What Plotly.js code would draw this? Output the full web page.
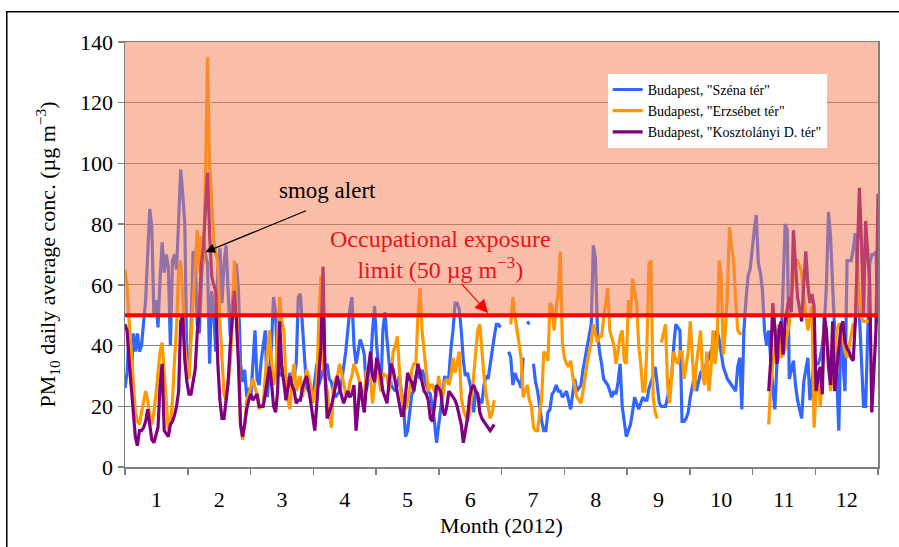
<!DOCTYPE html>
<html>
<head>
<meta charset="utf-8">
<script src="https://cdn.plot.ly/plotly-3.0.1.min.js"></script>
<style>html,body{margin:0;padding:0;background:#fff;}#chart{width:899px;height:547px;}</style>
</head>
<body>
<div id="chart"></div>
<script>
// ---- DATA (daily PM10, day index 0..365 of 2012) ----
const monthLabels = ['1','2','3','4','5','6','7','8','9','10','11','12'];
const seriesNames = ['Budapest, "Széna tér"', 'Budapest, "Erzsébet tér"', 'Budapest, "Kosztolányi D. tér"'];
const limitValue = 50;

const szena = [
26,31,44,27,44,38,44,38,40,48,
55,70,85,79,50,55,46,62,74,64,
70,66,40,68,70,65,82,98,90,80,
32,30,45,71,70,47,44,59,76,70,
67,34,58,51,38,65,72,54,67,73,
58,43,54,62,67,58,34,28,32,23,
26,23,34,45,29,27,35,40,45,23,
32,40,56,51,32,30,31,33,25,28,
31,29,30,34,56,57,47,36,26,25,
25,23,28,34,27,30,32,33,34,29,
28,25,23,24,25,28,33,38,45,52,
56,40,34,38,42,40,37,25,30,34,
45,53,40,33,25,45,51,42,34,27,
26,25,27,30,25,20,10,12,18,24,
25,30,31,29,32,30,27,25,24,20,
15,8,14,20,25,30,28,30,39,45,
54,54,52,45,35,30,31,28,25,18,
25,23,22,21,27,30,29,34,38,43,
47,47,46,null,null,null,38,36,27,31,
29,28,26,36,null,48,47,null,34,28,
25,20,15,12,12,18,19,24,25,27,
25,25,23,24,25,22,19,24,29,25,
26,27,32,36,39,43,47,73,69,45,
38,34,29,28,27,25,23,25,24,28,
34,20,14,10,12,14,18,23,21,19,
21,23,22,22,26,28,30,33,26,21,
20,20,20,23,27,30,40,47,46,45,
15,15,16,18,23,26,30,25,28,31,
32,33,34,36,38,40,43,45,42,38,
33,31,29,28,27,26,25,33,36,19,
45,55,63,65,72,78,83,67,64,58,
45,40,45,34,26,19,34,37,40,60,
80,78,29,32,35,27,22,19,16,28,
32,36,22,28,34,34,34,36,40,47,
60,84,76,60,47,30,12,45,35,25,
68,68,68,72,77,65,50,35,20,20,
45,67,70,70,71,47];

const erzsebet = [
65,60,48,38,30,18,15,14,18,21,
25,22,17,14,18,24,30,38,41,30,
20,12,14,22,35,46,65,68,56,40,
33,29,42,55,67,78,64,76,67,95,
135,100,88,75,70,68,48,35,24,22,
28,34,48,68,55,38,14,9,14,22,
24,27,29,26,24,19,20,21,30,39,
45,35,27,30,42,56,48,45,28,22,
19,30,34,25,28,30,23,28,32,30,
27,21,24,28,50,63,34,30,25,18,
13,25,29,30,34,31,27,24,23,28,
30,34,32,30,27,24,23,32,30,29,
21,28,34,30,25,31,30,30,25,30,
38,40,43,32,23,21,19,22,25,32,
34,34,50,59,45,38,30,25,27,27,
25,23,30,25,23,28,29,27,30,36,
31,35,38,23,19,17,15,18,23,30,
38,45,47,38,30,24,20,16,18,22,
null,null,null,null,null,null,null,47,56,50,
45,40,36,23,25,27,22,20,13,12,
12,18,23,38,37,35,54,53,45,52,
58,71,41,36,34,33,35,30,27,23,
22,21,25,30,34,38,41,47,44,41,
43,43,49,55,59,45,42,40,34,38,
43,45,35,34,55,49,62,58,54,40,
34,25,25,40,67,68,23,18,16,null,
41,44,47,27,21,30,38,35,34,38,
38,29,33,38,48,36,25,34,40,45,
30,27,38,25,32,45,34,40,68,63,
37,45,57,79,73,68,55,45,44,44,
null,null,null,null,null,null,null,null,null,null,
null,null,14,27,34,40,44,47,36,37,
39,44,47,56,62,68,68,66,64,56,
50,45,49,53,13,25,32,20,30,47,
42,38,25,30,36,45,47,47,42,38,
36,40,44,47,47,67,55,49,48,48,
48,48,48,null,null,null];

const kosztolanyi = [
47,45,35,27,18,10,7,12,12,13,
15,19,14,9,8,11,13,27,34,12,
11,10,14,15,17,20,25,48,50,35,
28,24,24,28,32,44,52,67,72,85,
97,77,63,60,58,34,22,16,16,22,
28,40,48,58,48,34,14,10,14,19,
22,24,22,23,24,20,20,20,24,28,
33,28,20,18,25,48,32,28,22,26,
30,27,25,21,22,22,26,28,30,26,
21,16,12,21,30,40,66,30,16,18,
20,23,27,30,26,23,21,23,25,23,
24,27,12,20,28,22,18,27,33,38,
30,28,36,33,30,25,23,21,28,34,
32,28,25,20,17,17,25,31,29,28,
25,30,34,31,28,25,24,22,16,15,
20,27,26,25,19,17,20,25,24,23,
22,20,17,14,8,12,16,23,26,27,
25,24,18,16,15,14,13,12,13,14,
null,null,null,null,null,null,null,null,null,null,
null,null,null,null,null,null,null,null,null,null,
null,null,null,null,null,null,null,null,null,null,
null,null,null,null,null,null,null,null,null,null,
null,null,null,null,null,null,null,null,null,null,
null,null,null,null,null,null,null,null,null,null,
null,null,null,null,null,null,null,null,null,null,
null,null,null,null,null,null,null,null,null,null,
null,null,null,null,null,null,null,null,null,null,
null,null,null,null,null,null,null,null,null,null,
null,null,null,null,null,null,null,null,null,null,
null,null,null,null,null,null,null,null,null,null,
null,null,null,null,null,null,null,null,null,null,
null,null,25,35,54,46,34,45,48,37,
48,52,56,51,78,67,56,52,48,60,
71,60,54,57,53,25,30,33,24,50,
45,33,27,48,25,32,38,46,48,41,
39,38,36,35,48,75,92,74,50,81,
72,60,18,30,45,90];

// ---- CHART ----
const FONT = 'Liberation Serif, Times New Roman, serif';
const nDays = szena.length;
const days = szena.map((_, i) => i);
const xMax = nDays - 1;
const monthW = xMax / 12;
const labelPos = monthLabels.map((_, i) => (i + 0.5) * monthW);
const boundPos = Array.from({length: 13}, (_, i) => i * monthW);

const colors = ['#3366FF', '#FF9900', '#800080'];
const traces = [szena, erzsebet, kosztolanyi].map((vals, i) => ({
  type: 'scatter', mode: 'lines', x: days, y: vals, name: seriesNames[i],
  line: {color: colors[i], width: 3.2}, connectgaps: false, hoverinfo: 'skip'
}));

const layout = {
  width: 899, height: 547,
  margin: {l: 125, r: 21, t: 42, b: 80},
  paper_bgcolor: '#ffffff', plot_bgcolor: '#ffffff',
  font: {family: FONT, color: '#000', size: 22},
  showlegend: true,
  legend: {
    x: 0.641, y: 0.925, xanchor: 'left', yanchor: 'top',
    bgcolor: '#ffffff', borderwidth: 0,
    font: {family: FONT, size: 14, color: '#000'},
    tracegroupgap: 0, itemwidth: 30
  },
  xaxis: {
    range: [0, xMax], tickmode: 'array', tickvals: labelPos, ticktext: monthLabels,
    ticks: '', ticklabelstandoff: 12,
    showgrid: false, zeroline: false,
    showline: true, linecolor: '#808080', linewidth: 1.5, mirror: true,
    minor: {tickmode: 'array', tickvals: boundPos, ticks: 'outside', ticklen: 6, tickcolor: '#808080', tickwidth: 1.5, showgrid: false},
    tickfont: {family: FONT, size: 22},
    title: {text: 'Month (2012)', font: {family: FONT, size: 22}, standoff: 6}
  },
  yaxis: {
    range: [0, 140], dtick: 20, tick0: 0,
    ticks: 'outside', ticklen: 6, tickcolor: '#808080', tickwidth: 1.5,
    showgrid: true, gridcolor: '#808080', gridwidth: 1,
    zeroline: false, showline: true, linecolor: '#808080', linewidth: 1.5, mirror: true,
    tickfont: {family: FONT, size: 22},
    title: {text: 'PM<sub>10</sub> daily average conc. (µg m<sup>−3</sup>)', font: {family: FONT, size: 22}, standoff: 18}
  },
  shapes: [
    {type: 'rect', xref: 'paper', yref: 'y', x0: 0, x1: 1, y0: limitValue, y1: 140,
     fillcolor: 'rgba(245,125,82,0.5)', line: {width: 0}, layer: 'above'},
    {type: 'line', xref: 'paper', yref: 'y', x0: 0, x1: 1, y0: limitValue, y1: limitValue,
     line: {color: '#FF0000', width: 4}, layer: 'above'},
    {type: 'rect', xref: 'paper', yref: 'paper', x0: -0.157, x1: 1.1, y0: -0.3, y1: 1.071,
     line: {color: '#000', width: 1.5}, fillcolor: 'rgba(0,0,0,0)', layer: 'below'}
  ],
  annotations: [
    {x: 39, y: 70.8, xref: 'x', yref: 'y', text: '', showarrow: true,
     ax: 102, ay: -42, arrowhead: 2, arrowsize: 1.6, arrowwidth: 1.2, arrowcolor: '#000', standoff: 0},
    {x: 98, y: 91, xref: 'x', yref: 'y', text: 'smog alert', showarrow: false,
     font: {family: FONT, size: 23, color: '#000'}},
    {x: 176, y: 50.7, xref: 'x', yref: 'y', text: '', showarrow: true,
     ax: -28, ay: -31, arrowhead: 2, arrowsize: 2.2, arrowwidth: 1.2, arrowcolor: '#FF0000', standoff: 0},
    {x: 153, y: 70, xref: 'x', yref: 'y', text: 'Occupational exposure<br>limit (50 µg m<sup>−3</sup>)', showarrow: false,
     font: {family: FONT, size: 24, color: '#E8141B'}, align: 'center'}
  ]
};

Plotly.newPlot('chart', traces, layout, {displayModeBar: false, staticPlot: true});
</script>
</body>
</html>
